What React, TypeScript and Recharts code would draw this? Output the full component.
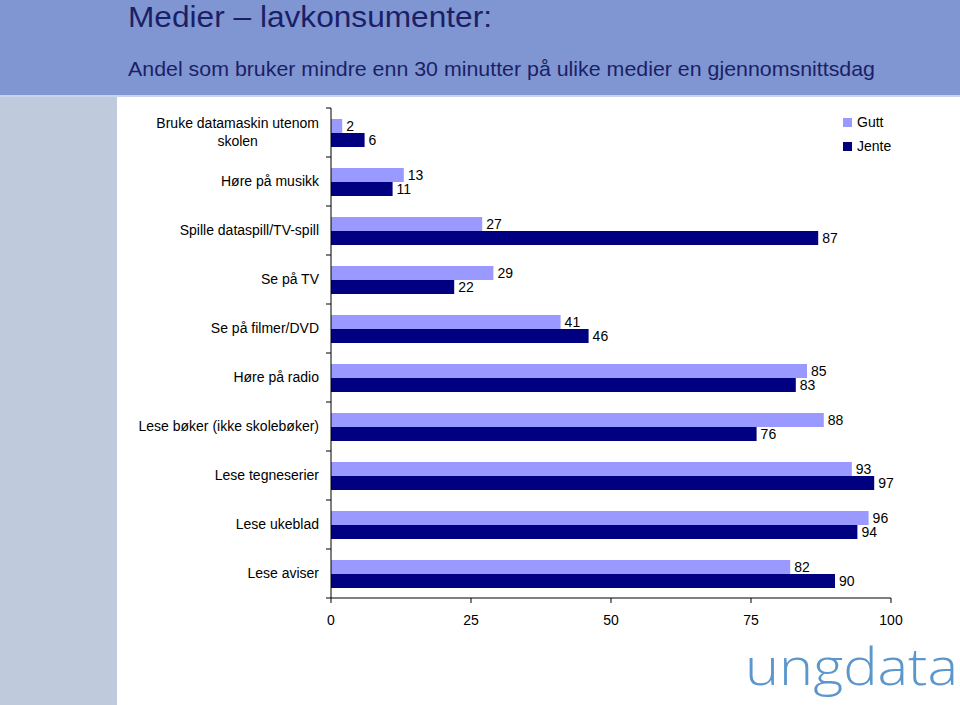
import React from "react";
import { BarChart, Bar, XAxis, YAxis, LabelList, Legend } from "recharts";

const categories = [
  "Bruke datamaskin utenom skolen",
  "Høre på musikk",
  "Spille dataspill/TV-spill",
  "Se på TV",
  "Se på filmer/DVD",
  "Høre på radio",
  "Lese bøker (ikke skolebøker)",
  "Lese tegneserier",
  "Lese ukeblad",
  "Lese aviser",
];
const gutt = [2, 13, 27, 29, 41, 85, 88, 93, 96, 82];
const jente = [6, 11, 87, 22, 46, 83, 76, 97, 94, 90];
const xTicks = [0, 25, 50, 75, 100];
const seriesNames = ["Gutt", "Jente"];

const title = "Medier – lavkonsumenter:";
const subtitle = "Andel som bruker mindre enn 30 minutter på ulike medier en gjennomsnittsdag";
const logo = "ungdata";

const data = categories.map((c, i) => ({ name: c, Gutt: gutt[i], Jente: jente[i] }));

const W = 960;
const H = 705;
const MARGIN = { top: 108, right: 69, bottom: 77, left: 0 };
const YAXIS_W = 331;
const XAXIS_H = 30;
const PLOT_LEFT = MARGIN.left + YAXIS_W;
const PLOT_H = H - MARGIN.top - MARGIN.bottom - XAXIS_H;
const BAND = PLOT_H / categories.length;
const FONT = "'Liberation Sans', Arial, sans-serif";

let ctx: CanvasRenderingContext2D | null = null;
function measure(t: string) {
  if (!ctx) {
    const c = document.createElement("canvas");
    ctx = c.getContext("2d");
  }
  if (!ctx) return t.length * 7;
  ctx.font = `14px ${FONT}`;
  return ctx.measureText(t).width;
}

function splitLabel(t: string): string[] {
  if (t.length <= 28) return [t];
  const idx = t.lastIndexOf(" ");
  return [t.slice(0, idx), t.slice(idx + 1)];
}

const YTick = (props: any) => {
  const { y, payload, index } = props;
  const lines = splitLabel(String(payload.value));
  const right = PLOT_LEFT - 12;
  const last = index === categories.length - 1;
  let textEl;
  if (lines.length === 1) {
    textEl = (
      <text x={right} y={y} dy="0.35em" textAnchor="end" fontSize={14} fontFamily={FONT} fill="#000">
        {lines[0]}
      </text>
    );
  } else {
    const w1 = measure(lines[0]);
    const cx = right - w1 / 2;
    textEl = (
      <text textAnchor="middle" fontSize={14} fontFamily={FONT} fill="#000">
        {lines.map((l, i) => (
          <tspan key={i} x={cx} y={y + (i - (lines.length - 1) / 2) * 18} dy="0.35em">
            {l}
          </tspan>
        ))}
      </text>
    );
  }
  return (
    <g>
      <line x1={PLOT_LEFT - 5} x2={PLOT_LEFT} y1={y - BAND / 2} y2={y - BAND / 2} stroke="#000" />
      {last && <line x1={PLOT_LEFT - 5} x2={PLOT_LEFT} y1={y + BAND / 2} y2={y + BAND / 2} stroke="#000" />}
      {textEl}
    </g>
  );
};

const LegendContent = (props: any) => {
  const { payload } = props;
  return (
    <div style={{ fontFamily: FONT, fontSize: 14, color: "#000" }}>
      {(payload || []).map((p: any, i: number) => (
        <div key={i} style={{ display: "flex", alignItems: "center", height: 24 }}>
          <span style={{ display: "inline-block", width: 9, height: 9, background: p.color, marginRight: 5 }} />
          <span>{p.value}</span>
        </div>
      ))}
    </div>
  );
};

export default function App() {
  return (
    <div style={{ position: "absolute", left: 0, top: 0, width: W, height: H, background: "#fff", overflow: "hidden" }}>
      <svg width={W} height={H} style={{ position: "absolute", left: 0, top: 0 }}>
        <rect x={0} y={0} width={W} height={95} fill="#7F96D2" />
        <rect x={0} y={95} width={W} height={2} fill="#C9D3EC" />
        <rect x={0} y={97} width={117} height={H - 97} fill="#BFCADD" />
        <text x={128} y={27} fontSize={30} fill="#1C1F66" fontFamily={FONT} textLength={364} lengthAdjust="spacingAndGlyphs">
          {title}
        </text>
        <text x={128} y={76} fontSize={21} fill="#1C1F66" fontFamily={FONT} textLength={747} lengthAdjust="spacingAndGlyphs">
          {subtitle}
        </text>
        <text x={745} y={685} fontSize={52} fill="#5B97CD" fontFamily="'Open Sans', sans-serif" fontWeight={300} textLength={213} lengthAdjust="spacingAndGlyphs">
          {logo}
        </text>
      </svg>
      <div style={{ position: "absolute", left: 0, top: 0 }}>
        <BarChart width={W} height={H} data={data} layout="vertical" margin={MARGIN} barGap={0} barSize={14}>
          <XAxis
            type="number"
            domain={[0, 100]}
            ticks={xTicks}
            height={XAXIS_H}
            tickSize={5}
            tickMargin={12}
            axisLine={{ stroke: "#000" }}
            tickLine={{ stroke: "#000" }}
            tick={{ fill: "#000", fontSize: 14, fontFamily: FONT }}
            interval={0}
          />
          <YAxis
            type="category"
            dataKey="name"
            width={YAXIS_W}
            axisLine={{ stroke: "#000" }}
            tickLine={false}
            tick={<YTick />}
            interval={0}
          />
          <Legend
            content={<LegendContent />}
            wrapperStyle={{ position: "absolute", left: 843, top: 110, width: 100, height: 0, overflow: "visible" }}
          />
          <Bar dataKey={seriesNames[0]} name={seriesNames[0]} fill="#9999FF" isAnimationActive={false}>
            <LabelList dataKey={seriesNames[0]} position="right" offset={4} fill="#000" fontSize={14} fontFamily={FONT} />
          </Bar>
          <Bar dataKey={seriesNames[1]} name={seriesNames[1]} fill="#000080" isAnimationActive={false}>
            <LabelList dataKey={seriesNames[1]} position="right" offset={4} fill="#000" fontSize={14} fontFamily={FONT} />
          </Bar>
        </BarChart>
      </div>
    </div>
  );
}
